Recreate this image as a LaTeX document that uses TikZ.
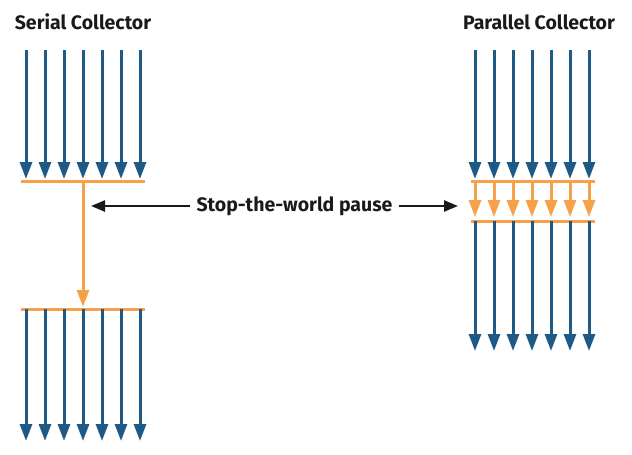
\documentclass[tikz,border=0pt]{standalone}
\usepackage{fontspec}
\setmainfont{Fira Sans}
\usetikzlibrary{arrows.meta}
\definecolor{threadblue}{HTML}{1F5A87}
\definecolor{gcorange}{HTML}{F7A04A}
\definecolor{labelblack}{HTML}{1A1A1A}
\tikzset{
  thread/.style={draw=threadblue, line width=3pt, -{Triangle[width=12pt,length=17pt]}},
  gcthread/.style={draw=gcorange, line width=3pt, -{Triangle[width=12pt,length=17pt]}},
  barrier/.style={draw=gcorange, line width=3pt},
  pausearrow/.style={draw=labelblack, line width=2.4pt, -{Triangle[width=11pt,length=14pt]}},
  title/.style={font=\fontsize{19.5}{22}\selectfont\bfseries, text=labelblack, inner sep=0pt},
}
\begin{document}
\begin{tikzpicture}[x=1pt,y=-1pt]
\useasboundingbox (0,0) rectangle (632,455);
% titles
\node[title] (serialtitle) at (83,22) {Serial Collector};
\node[title] (paralleltitle) at (539,22) {Parallel Collector};
% serial collector
\coordinate (sbarTL) at (21,181);
\coordinate (sbarTR) at (145,181);
\coordinate (sbarBL) at (21,309);
\coordinate (sbarBR) at (145,309);
\draw[barrier] (sbarTL) -- (sbarTR);
\draw[barrier] (sbarBL) -- (sbarBR);
\foreach \i in {0,...,6} {
  \coordinate (sa\i) at (26+19*\i,50);
  \coordinate (sb\i) at (26+19*\i,179);
  \coordinate (sc\i) at (26+19*\i,309);
  \coordinate (sd\i) at (26+19*\i,441);
  \draw[thread] (sa\i) -- (sb\i);
  \draw[thread] (sc\i) -- (sd\i);
}
\coordinate (sgcstart) at (83,181);
\coordinate (sgcend) at (83,307);
\draw[gcthread] (sgcstart) -- (sgcend);
% parallel collector
\coordinate (pbarTL) at (471,181);
\coordinate (pbarTR) at (595,181);
\coordinate (pbarBL) at (471,221);
\coordinate (pbarBR) at (595,221);
\draw[barrier] (pbarTL) -- (pbarTR);
\draw[barrier] (pbarBL) -- (pbarBR);
\foreach \i in {0,...,6} {
  \coordinate (pa\i) at (475+19*\i,50);
  \coordinate (pb\i) at (475+19*\i,179);
  \coordinate (pc\i) at (475+19*\i,181);
  \coordinate (pd\i) at (475+19*\i,217);
  \coordinate (pe\i) at (475+19*\i,221);
  \coordinate (pf\i) at (475+19*\i,351);
  \draw[thread] (pa\i) -- (pb\i);
  \draw[gcthread] (pc\i) -- (pd\i);
  \draw[thread] (pe\i) -- (pf\i);
}
% pause label
\node[title] (pause) at (294.5,206) {Stop-the-world pause};
\coordinate (pauseleft) at (91,206);
\coordinate (pauseright) at (458,206);
\draw[pausearrow] ([xshift=-6pt]pause.west) -- (pauseleft);
\draw[pausearrow] ([xshift=6pt]pause.east) -- (pauseright);
\end{tikzpicture}
\end{document}
